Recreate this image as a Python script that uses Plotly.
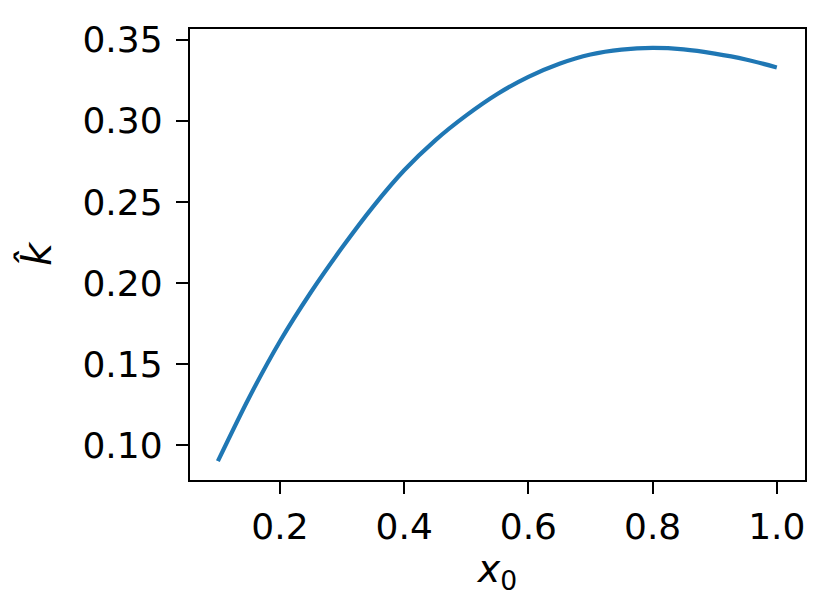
import plotly.graph_objects as go

# values
x0_values = [0.10, 0.15, 0.20, 0.25, 0.30, 0.35, 0.40, 0.45, 0.50, 0.55,
             0.60, 0.65, 0.70, 0.75, 0.80, 0.85, 0.90, 0.95, 1.00]
k_hat_values = [0.0900, 0.1290, 0.1640, 0.1944, 0.2218, 0.2471, 0.2695, 0.2880,
                0.3034, 0.3166, 0.3272, 0.3353, 0.3410, 0.3440, 0.3450, 0.3441,
                0.3415, 0.3379, 0.3330]
x_ticks = [0.2, 0.4, 0.6, 0.8, 1.0]
x_tick_labels = ["0.2", "0.4", "0.6", "0.8", "1.0"]
y_ticks = [0.10, 0.15, 0.20, 0.25, 0.30, 0.35]
y_tick_labels = ["0.10", "0.15", "0.20", "0.25", "0.30", "0.35"]

FONT = "DejaVu Sans"

fig = go.Figure()
fig.add_trace(go.Scatter(
    x=x0_values, y=k_hat_values, mode="lines",
    line=dict(color="#1f77b4", width=4.2, shape="spline", smoothing=0.8),
    showlegend=False,
))

axis_common = dict(
    showgrid=False, zeroline=False,
    showline=True, linecolor="black", linewidth=2.4, mirror=True,
    ticks="outside", ticklen=12, tickwidth=2.4, tickcolor="black",
    tickfont=dict(family=FONT, size=36, color="black"),
)

# page body adds an 8px offset, so the figure is sized/margined to compensate
fig.update_layout(
    width=822, height=608,
    margin=dict(l=182, r=25, t=15, b=136),
    paper_bgcolor="white", plot_bgcolor="white",
    font=dict(family=FONT, color="black"),
    xaxis=dict(
        range=[0.0551, 1.0454], tickvals=x_ticks, ticktext=x_tick_labels,
        ticklabelstandoff=2,
        title=dict(text="<i>x</i><sub>0</sub>", font=dict(family=FONT, size=38), standoff=4),
        **axis_common,
    ),
    yaxis=dict(
        range=[0.0784, 0.3567], tickvals=y_ticks, ticktext=y_tick_labels,
        ticklabelstandoff=6,
        title=dict(text="<i>k\u0302</i>", font=dict(family=FONT, size=40), standoff=18),
        **axis_common,
    ),
)

fig.write_html("out.html")
